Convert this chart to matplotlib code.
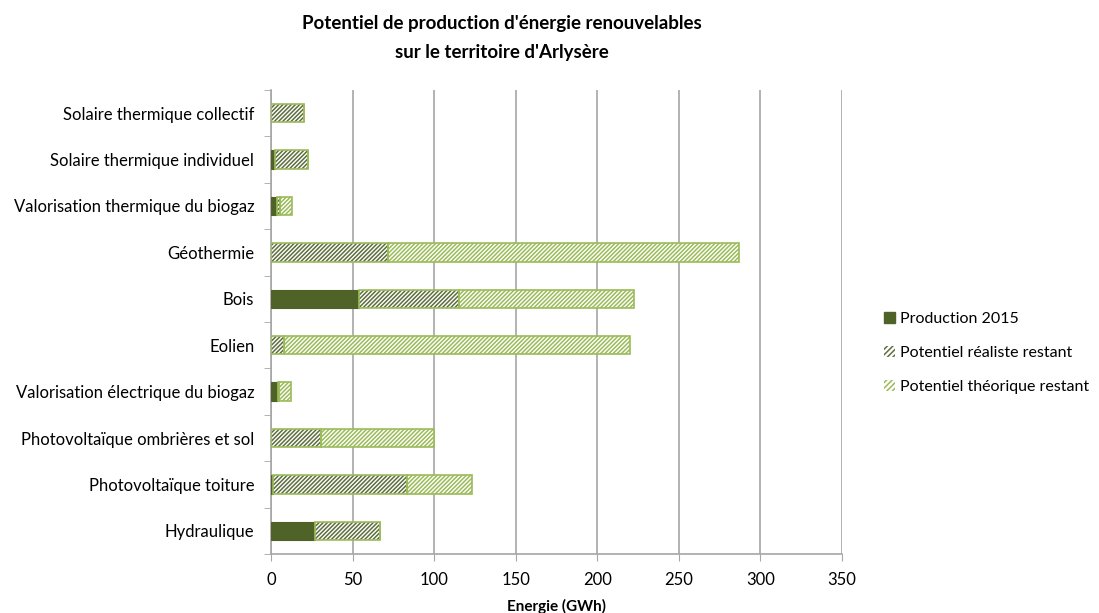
import matplotlib.pyplot as plt
import numpy as np
from matplotlib.patches import Patch

plt.rcParams['font.family'] = ['Lato', 'DejaVu Sans']
plt.rcParams['hatch.linewidth'] = 1.1

categories = ["Hydraulique", "Photovoltaïque toiture", "Photovoltaïque ombrières et sol",
              "Valorisation électrique du biogaz", "Eolien", "Bois", "Géothermie",
              "Valorisation thermique du biogaz", "Solaire thermique individuel",
              "Solaire thermique collectif"]
production_2015 = [27, 1, 0, 4, 0, 54, 0, 3.5, 2.5, 0]
realiste = [40, 82.6, 30.7, 1, 8, 61.5, 72, 2, 20, 20.4]
theorique = [0, 39.8, 69.3, 7.3, 212, 107, 215, 7.5, 0, 0]
xticks = [0, 50, 100, 150, 200, 250, 300, 350]

dark = "#4F6228"
light = "#9BBB59"
hatch_dark = "#5E6E3E"

fig = plt.figure(figsize=(10.99, 6.13), dpi=100)
ax = fig.add_axes([271 / 1099, 1 - 554 / 613, 571 / 1099, 464 / 613])

y = np.arange(len(categories))
h = 0.4
prod = np.array(production_2015)
real = np.array(realiste)
theo = np.array(theorique)

ax.barh(y, prod, height=h, color=dark, edgecolor=dark, linewidth=0.8, zorder=3)
# realistic remaining: white fill, dark hatch, light green border
ax.barh(y, real, left=prod, height=h, color="white", edgecolor=hatch_dark,
        hatch="////////", linewidth=0, zorder=3)
ax.barh(y, real, left=prod, height=h, fill=False, edgecolor=light, linewidth=1.2, zorder=4)
# theoretical remaining: white fill, light green hatch
ax.barh(y, theo, left=prod + real, height=h, color="white", edgecolor=light,
        hatch="////////", linewidth=0, zorder=3)
ax.barh(y, theo, left=prod + real, height=h, fill=False, edgecolor=light, linewidth=1.2, zorder=4)

ax.set_xlim(0, 350)
ax.set_ylim(-0.5, len(categories) - 0.5)
ax.set_xticks(xticks)
ax.set_yticks(y)
ax.set_yticklabels(categories, fontsize=12)
ax.set_yticks(np.arange(-0.5, len(categories), 1), minor=True)
ax.tick_params(axis='y', which='major', length=0, pad=12)
ax.tick_params(axis='y', which='minor', length=5, color="#A6A6A6")
ax.tick_params(axis='x', length=5, color="#A6A6A6", labelsize=12, pad=8)

ax.grid(axis='x', color="#A6A6A6", linewidth=1.2, zorder=0)
ax.set_axisbelow(True)
for s in ["top", "right"]:
    ax.spines[s].set_visible(False)
for s in ["left", "bottom"]:
    ax.spines[s].set_color("#A6A6A6")
    ax.spines[s].set_linewidth(1.2)

ax.set_xlabel("Energie (GWh)", fontsize=11, fontweight="bold", labelpad=8)

fig.text(502 / 1099, 1 - 38 / 613, "Potentiel de production d'énergie renouvelables\nsur le territoire d'Arlysère",
         ha="center", va="center", fontsize=13.5, fontweight="bold", linespacing=1.9)

handles = [
    Patch(facecolor=dark, edgecolor=dark, label="Production 2015"),
    Patch(facecolor="white", edgecolor=hatch_dark, hatch="//////", linewidth=0, label="Potentiel réaliste restant"),
    Patch(facecolor="white", edgecolor=light, hatch="//////", linewidth=0, label="Potentiel théorique restant"),
]
fig.legend(handles=handles, loc="center left", bbox_to_anchor=(884 / 1099, 1 - 353 / 613),
           frameon=False, fontsize=11.5, handlelength=0.7, handleheight=0.7,
           handletextpad=0.3, labelspacing=1.25, borderpad=0, borderaxespad=0)

fig.savefig("out.png", dpi=100)
